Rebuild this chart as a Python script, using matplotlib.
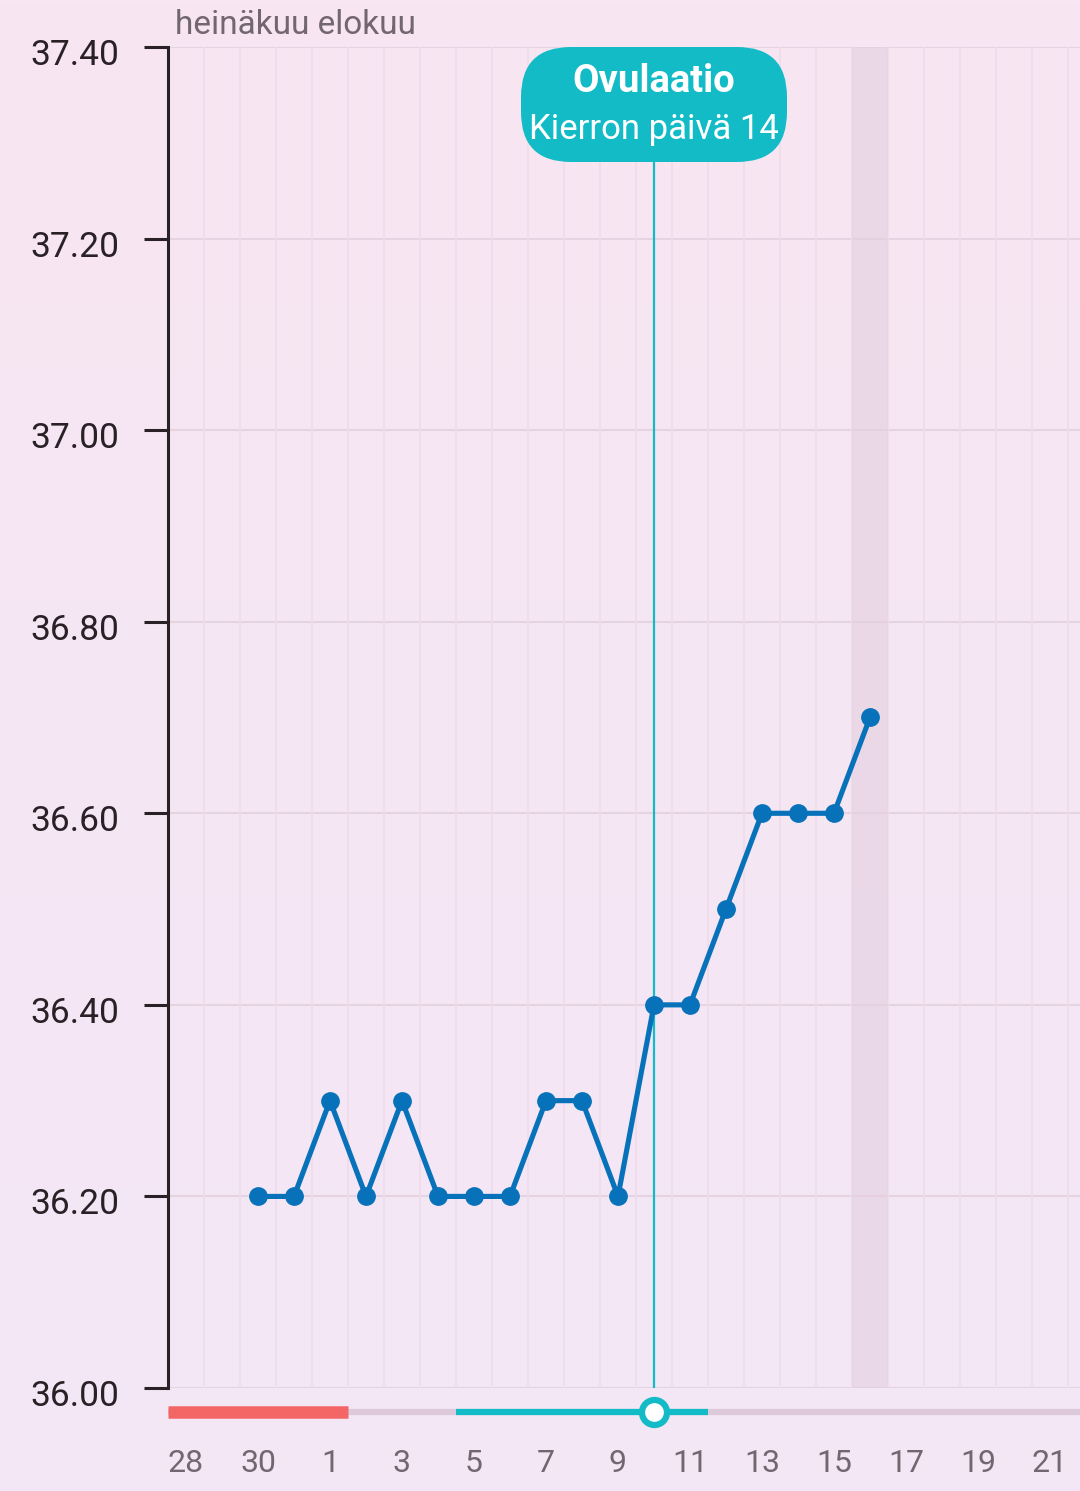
import numpy as np
import matplotlib.pyplot as plt
import matplotlib.transforms as mtransforms
from matplotlib.colors import LinearSegmentedColormap
from matplotlib.patches import FancyBboxPatch

plt.rcParams['font.family'] = ['Roboto', 'DejaVu Sans']

# päivät 28.7. - 21.8.
day_labels = [28, 29, 30, 31] + list(range(1, 22))
temp_start = 2  # 30.7.
temps = [36.2, 36.2, 36.3, 36.2, 36.3, 36.2, 36.2, 36.2, 36.3, 36.3,
         36.2, 36.4, 36.4, 36.5, 36.6, 36.6, 36.6, 36.7]
period_days = [0, 4]       # 28.7. - 1.8.
fertile_days = [8, 14]     # 5.8. - 11.8.
ovulation_day = 13         # 10.8.
today = 19                 # 16.8.
y_ticks = [36.0, 36.2, 36.4, 36.6, 36.8, 37.0, 37.2, 37.4]

line_col = "#0772B9"
teal = "#13BBC7"
red = "#F46666"
grid_col = "#E6D3E1"
text_gray = "#726670"

fig = plt.figure(figsize=(10.8, 14.91), dpi=100)

# taustan liukuväri
bg = fig.add_axes([0, 0, 1, 1], zorder=-10)
cmap = LinearSegmentedColormap.from_list("bg", ["#F8E6F2", "#F3E6F6"])
bg.imshow(np.linspace(0, 1, 256).reshape(-1, 1), aspect="auto", cmap=cmap,
          extent=[0, 1, 0, 1], origin="upper")
bg.axis("off")

ax = fig.add_axes([168 / 1080, 103 / 1491, 912 / 1080, 1341 / 1491])
ax.patch.set_alpha(0)
xmax = (1080 - 186) / 36
ax.set_xlim(-0.5, xmax)
ax.set_ylim(36.0, 37.4)

for y in y_ticks:
    ax.axhline(y, color=grid_col, lw=1.5, zorder=1)
for i in range(len(day_labels) + 1):
    ax.axvline(i - 0.5, color="#EEDCEA", lw=1.2, zorder=1)

ax.axvspan(today - 0.5, today + 0.5, color="#E3CFE0", alpha=0.6, lw=0, zorder=1)

x = np.arange(temp_start, temp_start + len(temps))
ax.plot(x, temps, color=line_col, lw=3.7, marker="o", ms=12.5, zorder=5)

ax.axvline(ovulation_day, ymax=1 - 115 / 1341, color=teal, lw=1.6, zorder=4)

# ovulaatiolappu (tuumina)
box = FancyBboxPatch((5.21, (1491 - 162) / 100), 2.66, 1.15,
                     boxstyle="round,pad=0,rounding_size=0.5",
                     transform=fig.dpi_scale_trans, facecolor=teal,
                     edgecolor="none", zorder=6)
fig.patches.append(box)
fig.text(654 / 1080, 1 - 82 / 1491, "Ovulaatio", color="white", fontsize=27.5,
         fontweight="bold", ha="center", va="center", zorder=7)
fig.text(654 / 1080, 1 - 129 / 1491, "Kierron päivä 14", color="white",
         fontsize=25, ha="center", va="center", zorder=7)

ax.set_yticks(y_ticks)
ax.set_yticklabels([f"{v:.2f}" for v in y_ticks], fontsize=25.5, color="#2A2127")
ax.tick_params(axis="y", length=17, width=2.2, color="#2A2127", pad=18)
shift = mtransforms.ScaledTranslation(0, -5 / 100, fig.dpi_scale_trans)
for lab in ax.get_yticklabels():
    lab.set_transform(lab.get_transform() + shift)
ax.set_xticks([])
for s in ["top", "right", "bottom"]:
    ax.spines[s].set_visible(False)
ax.spines["left"].set_linewidth(2.2)
ax.spines["left"].set_color("#2A2127")

# kiertopalkki
bar = fig.add_axes([168 / 1080, 1 - 1432 / 1491, 912 / 1080, 40 / 1491])
bar.patch.set_alpha(0)
bar.set_xlim(-0.5, xmax)
bar.set_ylim(0, 1)
bar.axis("off")
bar.plot([-0.5, xmax], [0.5, 0.5], color="#DCCADB", lw=4.5, solid_capstyle="butt")
bar.plot([period_days[0] - 0.5, period_days[1] + 0.5], [0.5, 0.5], color=red,
         lw=9, solid_capstyle="butt")
bar.plot([fertile_days[0] - 0.5, fertile_days[1] + 0.5], [0.5, 0.5], color=teal,
         lw=4.5, solid_capstyle="butt")
bar.plot([ovulation_day], [0.5], marker="o", ms=18, mfc="white", mec=teal, mew=4.5)

for i in range(0, len(day_labels), 2):
    fig.text((186 + 36 * i) / 1080, 1 - 1463 / 1491, str(day_labels[i]),
             fontsize=23, color=text_gray, ha="center", va="center")

fig.text(175 / 1080, 1 - 25 / 1491, "heinäkuu elokuu", fontsize=24,
         color=text_gray, ha="left", va="center")

fig.savefig("out.png", dpi=100)
